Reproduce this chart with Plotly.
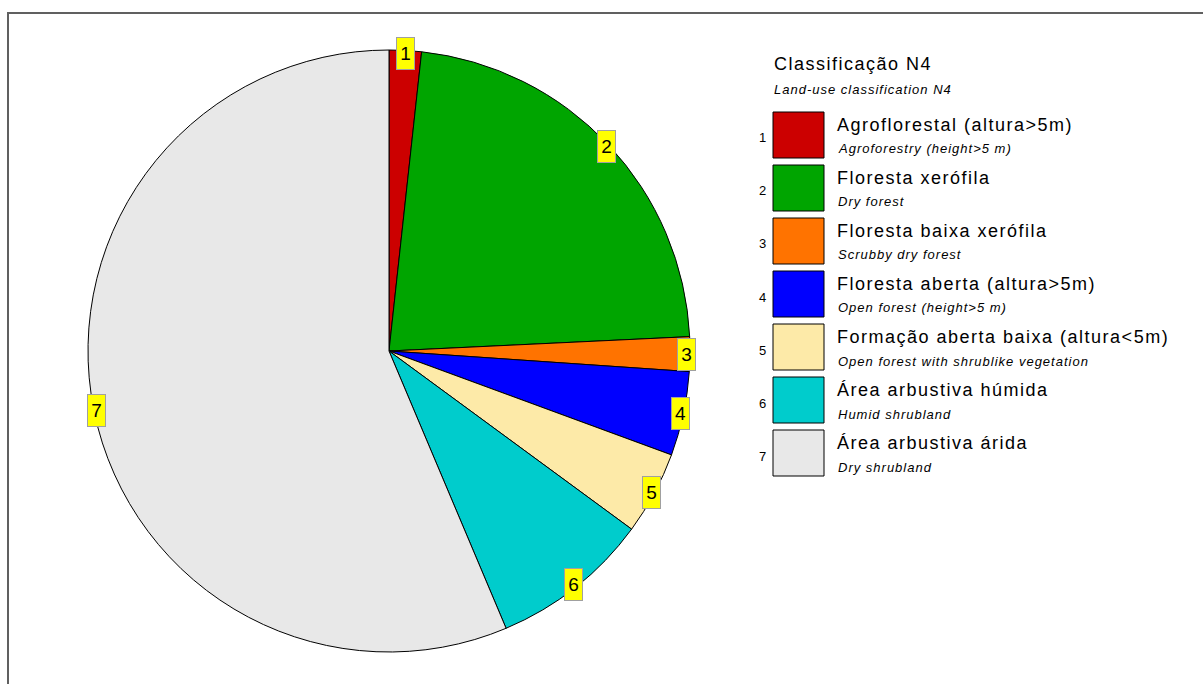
import math
import plotly.graph_objects as go

# ---- data ----
class_ids = ["1", "2", "3", "4", "5", "6", "7"]
values_pct = [1.73, 22.51, 1.85, 4.52, 4.47, 8.56, 56.36]
labels_pt = ["Agroflorestal (altura>5m)", "Floresta xerófila", "Floresta baixa xerófila",
             "Floresta aberta (altura>5m)", "Formação aberta baixa (altura<5m)",
             "Área arbustiva húmida", "Área arbustiva árida"]
labels_en = ["Agroforestry (height>5 m)", "Dry forest", "Scrubby dry forest",
             "Open forest (height>5 m)", "Open forest with shrublike vegetation",
             "Humid shrubland", "Dry shrubland"]
colors = ["#CC0000", "#00A500", "#FF7300", "#0000FF", "#FDEAA8", "#00CCCC", "#E8E8E8"]
legend_title = "Classificação N4"
legend_subtitle = "Land-use classification N4"

W, H = 1203, 684
cx, cy, r = 389, 351, 301
FONT = "Liberation Sans, Arial, sans-serif"

def px(x):
    return x / W

def py(y):
    return 1 - y / H

def spaced(t, ls):
    t = t.replace("<", "&lt;").replace(">", "&gt;")
    return f"<span style='letter-spacing:{ls}px'>{t}</span>"

fig = go.Figure()
fig.add_trace(go.Pie(
    labels=labels_pt, values=values_pct, sort=False, direction="clockwise", rotation=0,
    marker=dict(colors=colors, line=dict(color="black", width=1)),
    textinfo="none", showlegend=False, hole=0,
    domain=dict(x=[px(cx - r), px(cx + r)], y=[py(cy + r), py(cy - r)]),
))

annotations = []
# slice labels at mid-angle
total = sum(values_pct)
cum = 0.0
R = 298
for cid, v in zip(class_ids, values_pct):
    mid = (cum + v / 2) / total * 2 * math.pi
    cum += v
    x = cx + R * math.sin(mid)
    y = cy - R * math.cos(mid)
    annotations.append(dict(
        x=px(x), y=py(y), xref="paper", yref="paper", text=cid, showarrow=False,
        xanchor="center", yanchor="middle", width=11, height=25,
        font=dict(family=FONT, size=19, color="black"),
        bgcolor="#FFFF00", bordercolor="#A0A0A0", borderwidth=1, borderpad=3,
    ))

# legend
annotations.append(dict(x=px(772), y=py(64), xref="paper", yref="paper",
                        text=spaced(legend_title, 1.5),
                        showarrow=False, xanchor="left", yanchor="middle",
                        font=dict(family=FONT, size=18, color="black")))
annotations.append(dict(x=px(772), y=py(89), xref="paper", yref="paper",
                        text="<i>" + spaced(legend_subtitle, 1.0) + "</i>",
                        showarrow=False, xanchor="left", yanchor="middle",
                        font=dict(family=FONT, size=13, color="black")))
shapes = []
for i, (cid, lp, le, c) in enumerate(zip(class_ids, labels_pt, labels_en, colors)):
    top = 112 + 53 * i
    shapes.append(dict(type="rect", xref="paper", yref="paper",
                       x0=px(773), x1=px(824), y0=py(top + 46), y1=py(top),
                       fillcolor=c, line=dict(color="black", width=1)))
    annotations.append(dict(x=px(768), y=py(top + 26), xref="paper", yref="paper", text=cid,
                            showarrow=False, xanchor="right", yanchor="middle",
                            font=dict(family=FONT, size=13, color="black")))
    annotations.append(dict(x=px(835), y=py(top + 13), xref="paper", yref="paper",
                            text=spaced(lp, 1.5),
                            showarrow=False, xanchor="left", yanchor="middle",
                            font=dict(family=FONT, size=18, color="black")))
    annotations.append(dict(x=px(836), y=py(top + 37), xref="paper", yref="paper",
                            text="<i>" + spaced(le, 1.0) + "</i>",
                            showarrow=False, xanchor="left", yanchor="middle",
                            font=dict(family=FONT, size=13, color="black")))

# outer frame
shapes.append(dict(type="rect", xref="paper", yref="paper",
                   x0=px(8), x1=1.05, y0=-0.05, y1=py(13),
                   line=dict(color="#606060", width=2), fillcolor="rgba(0,0,0,0)", layer="below"))

fig.update_layout(
    width=W, height=H, margin=dict(l=0, r=0, t=0, b=0),
    paper_bgcolor="white", plot_bgcolor="white",
    annotations=annotations, shapes=shapes, showlegend=False,
)
fig.write_html("out.html", config={"displayModeBar": False},
               post_script="document.body.style.margin='0px';")
